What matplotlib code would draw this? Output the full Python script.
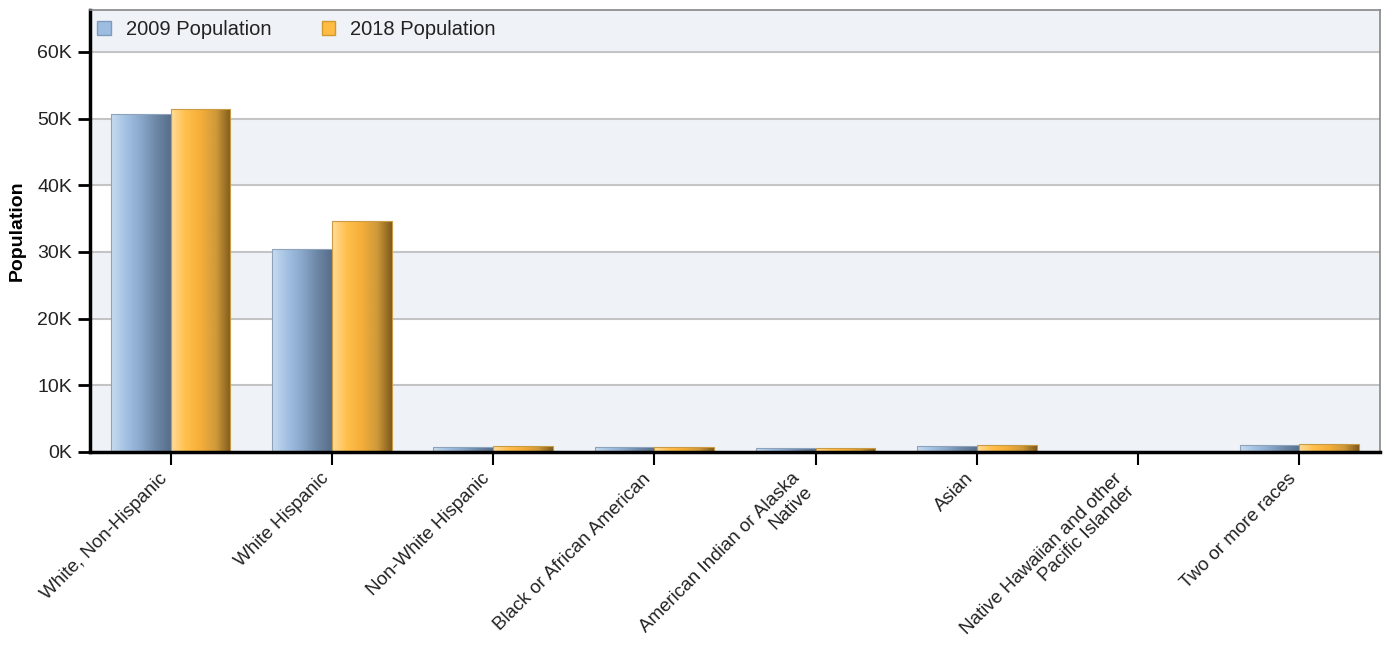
import numpy as np
import matplotlib
matplotlib.use('Agg')
import matplotlib.pyplot as plt
from matplotlib.colors import LinearSegmentedColormap
from matplotlib.patches import Patch
from matplotlib.ticker import FuncFormatter

categories = ['White, Non-Hispanic', 'White Hispanic', 'Non-White Hispanic',
              'Black or African American', 'American Indian or Alaska\nNative',
              'Asian', 'Native Hawaiian and other\nPacific Islander', 'Two or more races']
pop_2009 = [50700, 30400, 680, 680, 650, 850, 0, 1000]
pop_2018 = [51400, 34600, 880, 700, 650, 1050, 0, 1200]

plt.rcParams['font.family'] = ['Liberation Sans', 'DejaVu Sans']

fig = plt.figure(figsize=(13.85, 6.53), dpi=100)
ax = fig.add_axes([90 / 1385, 1 - 452 / 653, 1290 / 1385, 442 / 653])

ymax = 66300

# alternating bands + grid
for lo in range(0, 70000, 20000):
    ax.axhspan(lo, lo + 10000, color='#eff3f8', zorder=0, lw=0)
for v in range(10000, 70000, 10000):
    ax.axhline(v, color='#c4c4c4', lw=1.5, zorder=1)

blue_cmap = LinearSegmentedColormap.from_list('b', ['#c8dbef', '#a3c1e2', '#8aa8cb', '#6d87a6', '#566e8a'])
orange_cmap = LinearSegmentedColormap.from_list('o', ['#ffdc9c', '#ffbf4a', '#f4ae3a', '#cf9a3a', '#7e5a1c'])

x = np.arange(len(categories))
w = 0.37
grad = np.linspace(0, 1, 256).reshape(1, -1)


def draw(xs, vals, cmap, edge):
    bars = ax.bar(xs, vals, w, color='none', edgecolor=edge, lw=0.8, zorder=3)
    for b in bars:
        if b.get_height() <= 0:
            continue
        x0, y0 = b.get_x(), b.get_y()
        im = ax.imshow(grad, cmap=cmap, aspect='auto', zorder=2,
                       extent=[x0, x0 + b.get_width(), y0, y0 + b.get_height()])
        im.set_clip_path(b)
    return bars


draw(x - w / 2, pop_2009, blue_cmap, '#8ea3bb')
draw(x + w / 2, pop_2018, orange_cmap, '#c99b45')
ax.set_xlim(-0.5, 7.5)
ax.set_ylim(0, ymax)

ax.set_yticks(range(0, 70000, 10000))
ax.yaxis.set_major_formatter(FuncFormatter(lambda v, p: '%dK' % (v / 1000)))
ax.set_xticks(x)
ax.set_xticklabels(categories, rotation=45, ha='right', va='top',
                   multialignment='right', fontsize=13.5, color='#222222',
                   linespacing=1.1)
ax.tick_params(axis='y', labelsize=14, length=9, width=2, direction='out',
               labelcolor='#222222', pad=4)
ax.tick_params(axis='x', length=9, width=1.5, direction='out', pad=4)

for s in ['left', 'bottom']:
    ax.spines[s].set_linewidth(2.5)
    ax.spines[s].set_color('black')
for s in ['top', 'right']:
    ax.spines[s].set_linewidth(1.2)
    ax.spines[s].set_color('#888888')
ax.spines['bottom'].set_zorder(5)

ax.set_ylabel('Population', fontsize=14, fontweight='bold', labelpad=8)

handles = [Patch(facecolor='#9dbde0', edgecolor='#7e9bbd', label='2009 Population'),
           Patch(facecolor='#ffbb44', edgecolor='#d09a30', label='2018 Population')]
leg = ax.legend(handles=handles, loc='upper left', ncol=2, frameon=False,
                fontsize=14.5, handlelength=0.65, handleheight=0.65, handletextpad=0.75,
                columnspacing=2.5, borderaxespad=0.0, borderpad=0.5,
                bbox_to_anchor=(-0.002, 1.0))
for t in leg.get_texts():
    t.set_color('#222222')

fig.savefig('out.png', dpi=100)
